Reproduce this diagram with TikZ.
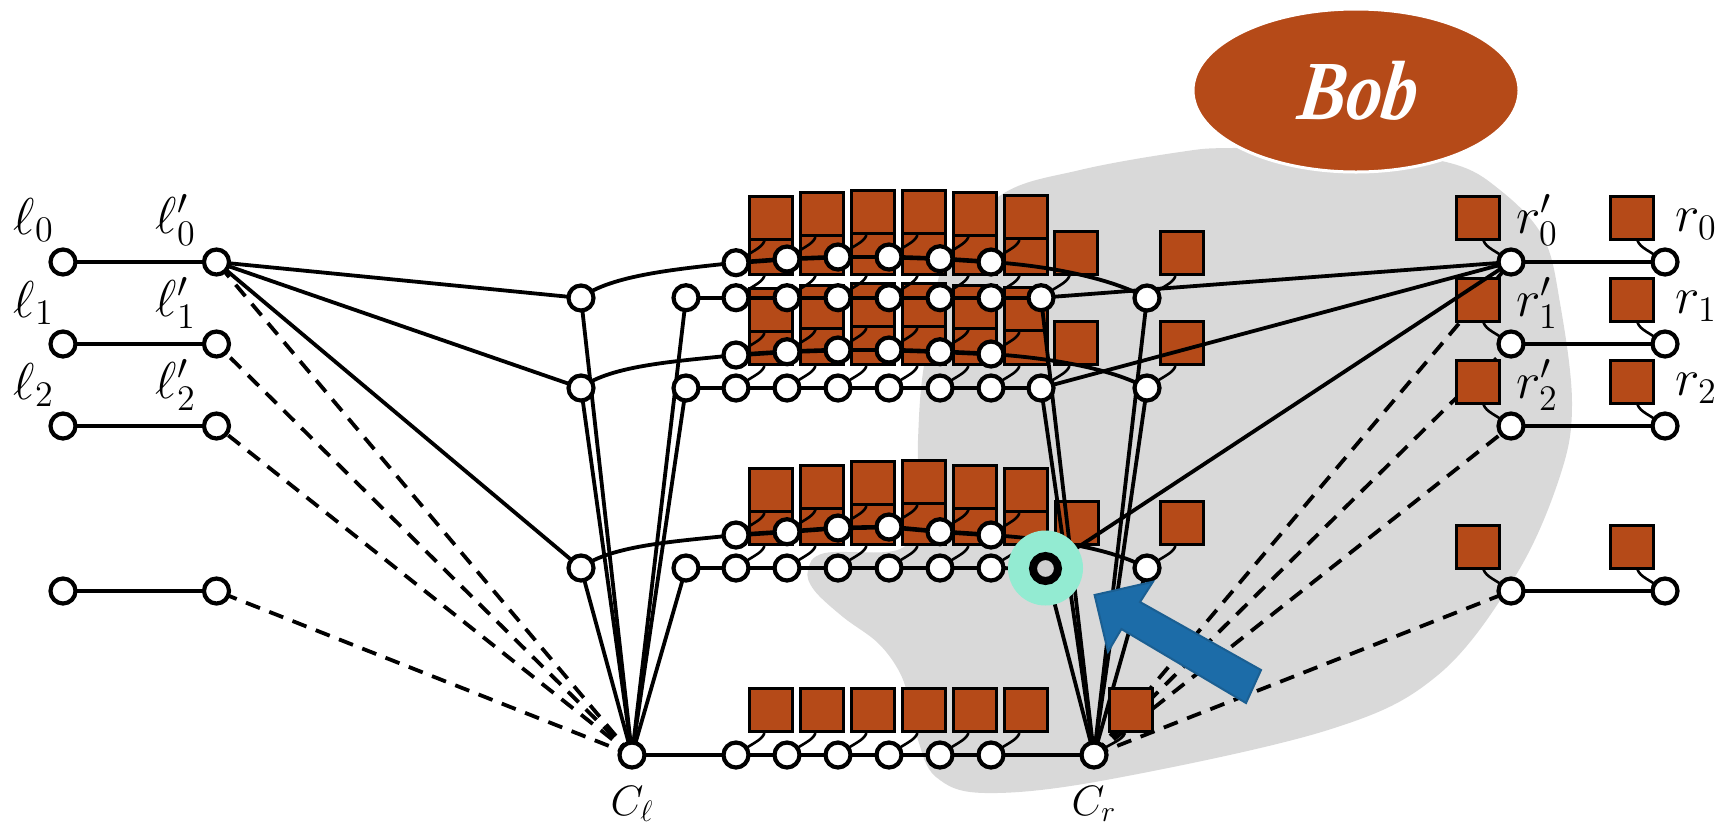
\documentclass[tikz,border=0pt]{standalone}
\usepackage{fontspec}
\newfontfamily\bobfont[BoldItalicFeatures={FakeSlant=0.15}]{Liberation Serif}
\usetikzlibrary{calc,shapes.geometric}
\definecolor{rust}{HTML}{B54A18}
\definecolor{blobgray}{HTML}{D9D9D9}
\definecolor{halo}{HTML}{93EBD2}
\definecolor{arrowblue}{HTML}{1C6CA8}
\definecolor{arrowedge}{HTML}{1B5F92}
\newcommand{\biglab}[1]{\scalebox{2.5}{\fontsize{20}{24}\selectfont$#1$}}
\newcommand{\crosslab}[1]{\scalebox{2.05}{\fontsize{20}{24}\selectfont$#1$}}
\pgfdeclarelayer{bglayer}\pgfdeclarelayer{dashlayer}\pgfdeclarelayer{sqlayer}\pgfdeclarelayer{wirelayer}\pgfdeclarelayer{edgelayer}\pgfdeclarelayer{toplayer}
\pgfsetlayers{bglayer,dashlayer,sqlayer,wirelayer,edgelayer,main,toplayer}
\tikzset{
  dot/.style={circle,draw=black,fill=white,line width=4.2pt,minimum size=25pt,inner sep=0pt},
  sq/.style={rectangle,draw=black,fill=rust,line width=3pt,minimum size=43pt,inner sep=0pt},
  wireline/.style={draw=black,line width=2.6pt},
  solidedge/.style={draw=black,line width=3.8pt},
  waveedge/.style={draw=black,line width=4.6pt},
  dashedge/.style={draw=black,line width=3.8pt,dash pattern=on 15pt off 10pt},
  lab/.style={inner sep=0pt},
}
\begin{document}
\begin{tikzpicture}[x=1pt,y=-1pt]
\useasboundingbox (0,0) rectangle (1735,831);
% --- round nodes
\foreach \n/\x/\y in {
 a1/736/262.7,a2/787/259,a3/838/257,a4/889/257,a5/940/258.7,a6/991/262,
 b0/686/297.7,b1/736/297.7,b2/787/297.7,b3/838/297.7,b4/889/297.7,b5/940/297.7,b6/991/297.7,b7/1041/297.7,
 c1/736/355,c2/787/351.7,c3/838/350,c4/889/350,c5/940/351.7,c6/991/354,
 d0/686/388,d1/736/388,d2/787/388,d3/838/388,d4/889/388,d5/940/388,d6/991/388,d7/1041/388,
 e1/736/535,e2/787/531.7,e3/838/528,e4/889/527,e5/940/531.7,e6/991/535,
 f0/686/568,f1/736/568,f2/787/568,f3/838/568,f4/889/568,f5/940/568,f6/991/568,
 g1/736/755,g2/787/755,g3/838/755,g4/889/755,g5/940/755,g6/991/755,
 ML0/581/298,ML1/581/388,ML2/581/568,MR0/1147/298,MR1/1147/388,MR2/1147/568,
 Cl/632/755,Cr/1094/755,
 L0/63/262,L1/63/344,L2/63/426,L3/63/591,
 Lp0/216.5/262,Lp1/216.5/344,Lp2/216.5/426,Lp3/216.5/591,
 Rp0/1511/262,Rp1/1511/344,Rp2/1511/426,Rp3/1511/591,
 R0/1665/262,R1/1665/344,R2/1665/426,R3/1665/591}
 {\node[dot] (\n) at (\x,\y) {};}
% --- grey region and ellipse
\begin{pgfonlayer}{bglayer}
\fill[blobgray] plot[smooth cycle,tension=0.6] coordinates {(1232,148)(1180,152)(1080,170)(1001,195)(945,260)(924,365)(918,440)(918,510)(900,549)(825,553)(808,570)(814,590)(843,617)(878,643)(900,673)(911,707)(918,740)(936,777)(985,793)(1106,780)(1328,730)(1438,675)(1516,575)(1560,476)(1572,403)(1560,303)(1543,237)(1500,190)(1450,163)(1350,150)};
\node[ellipse,draw=white,line width=3pt,fill=rust,minimum width=326pt,minimum height=163pt,inner sep=0pt] (bob) at (1356,90.5)
  {\scalebox{1.7}[2]{\color{white}\fontsize{42}{46}\selectfont\bobfont\bfseries\itshape Bob}};
\end{pgfonlayer}
% --- brown squares, back rows first
\begin{pgfonlayer}{sqlayer}
\foreach \n in {g1,g2,g3,g4,g5,g6,f1,f2,f3,f4,f5,f6,e1,e2,e3,e4,e5,e6,d1,d2,d3,d4,d5,d6,d7,c1,c2,c3,c4,c5,c6,b1,b2,b3,b4,b5,b6,b7,a1,a2,a3,a4,a5,a6,MR0,MR1,MR2}
 {\node[sq] (s\n) at ($(\n)+(34.5,-45)$) {};}
\node[sq] (sf7) at (1076.5,523) {};
\foreach \n in {Rp0,Rp1,Rp2,Rp3,R0,R1,R2,R3}
 {\node[sq] (s\n) at ($(\n)+(-33.5,-44.5)$) {};}
\end{pgfonlayer}
\begin{pgfonlayer}{wirelayer}
\foreach \n in {g1,g2,g3,g4,g5,g6,f1,f2,f3,f4,f5,f6,e1,e2,e3,e4,e5,e6,d1,d2,d3,d4,d5,d6,d7,c1,c2,c3,c4,c5,c6,b1,b2,b3,b4,b5,b6,b7,a1,a2,a3,a4,a5,a6,MR0,MR1,MR2}
 {\draw[wireline] ($(s\n.south)+(-6,0)$) .. controls +(-3,8) and +(16,-12) .. (\n.center);}
\foreach \n in {Rp0,Rp1,Rp2,Rp3,R0,R1,R2,R3}
 {\draw[wireline] ($(s\n.south)+(6,0)$) .. controls +(3,8) and +(-16,-12) .. (\n.center);}
\end{pgfonlayer}
% --- dashed connectors
\begin{pgfonlayer}{dashlayer}
\foreach \n in {Lp0,Lp1,Lp2,Lp3}{\draw[dashedge] (Cl.center) -- (\n.center);}
\foreach \n in {Rp0,Rp1,Rp2,Rp3}{\draw[dashedge] (Cr.center) -- (\n.center);}
\end{pgfonlayer}
% --- top overlays
\begin{pgfonlayer}{toplayer}
\node[circle,fill=halo,minimum size=75pt,inner sep=0pt] (hl) at (1045.5,568) {};
\node[dot,fill=black!19,line width=8pt] (f7) at (1045.5,568.5) {};
\node[sq] (sCr) at ($(Cr)+(37,-45)$) {};
\draw[draw=arrowedge,fill=arrowblue,line width=2pt] (1094.6,595) -- (1153,581.7) -- (1140,602) -- (1261,670) -- (1246,703) -- (1121.4,629) -- (1108,651.7) -- cycle;
\end{pgfonlayer}
% --- solid connectors
\begin{pgfonlayer}{edgelayer}
\draw[wireline] ($(sCr.south)+(-6,0)$) .. controls +(-3,8) and +(16,-12) .. (Cr.center);
\foreach \u/\v in {L0/Lp0,L1/Lp1,L2/Lp2,L3/Lp3,Rp0/R0,Rp1/R1,Rp2/R2,Rp3/R3,
  Lp0/ML0,Lp0/ML1,Lp0/ML2,Rp0/b7,Rp0/d7,Rp0/f7,
  Cl/ML0,Cl/ML1,Cl/ML2,Cl/b0,Cl/d0,Cl/f0,
  Cr/b7,Cr/d7,Cr/f7,Cr/MR0,Cr/MR1,Cr/MR2,
  b0/b1,b1/b2,b2/b3,b3/b4,b4/b5,b5/b6,b6/b7,
  d0/d1,d1/d2,d2/d3,d3/d4,d4/d5,d5/d6,d6/d7,
  f0/f1,f1/f2,f2/f3,f3/f4,f4/f5,f5/f6,f6/f7,
  Cl/g1,g1/g2,g2/g3,g3/g4,g4/g5,g5/g6,g6/Cr}
 {\draw[solidedge] (\u.center) -- (\v.center);}
\foreach \u/\v in {a1/a2,a2/a3,a3/a4,a4/a5,a5/a6,c1/c2,c2/c3,c3/c4,c4/c5,c5/c6,e1/e2,e2/e3,e3/e4,e4/e5,e5/e6}
 {\draw[waveedge] (\u.center) -- (\v.center);}
\foreach \u/\v in {ML0/a1,ML1/c1,ML2/e1}
 {\draw[solidedge] (\u.center) .. controls +(29,-23) and +(-56,6) .. (\v.center);}
\draw[solidedge] (a6.center) .. controls +(59,4) and +(-37,-20) .. (MR0.center);
\draw[solidedge] (c6.center) .. controls +(59,4) and +(-37,-20) .. (MR1.center);
\draw[solidedge] (e6.center) .. controls +(59,4) and +(-37,-20) .. (MR2.center);
\end{pgfonlayer}
% --- labels
\foreach \i/\y/\yr in {0/220/224,1/303/306,2/385/388}{
 \node[lab] (tl\i) at (34,\y) {\biglab{\ell_{\i}}};
 \node[lab] (tlp\i) at (176,\y) {\biglab{\ell'_{\i}}};
 \node[lab] (trp\i) at (1537,\y) {\biglab{r'_{\i}}};
 \node[lab] (tr\i) at (1696,\yr) {\biglab{r_{\i}}};
}
\node[lab] (tCl) at (632,804) {\crosslab{C_\ell}};
\node[lab] (tCr) at (1094,804) {\crosslab{C_r}};
\end{tikzpicture}
\end{document}
